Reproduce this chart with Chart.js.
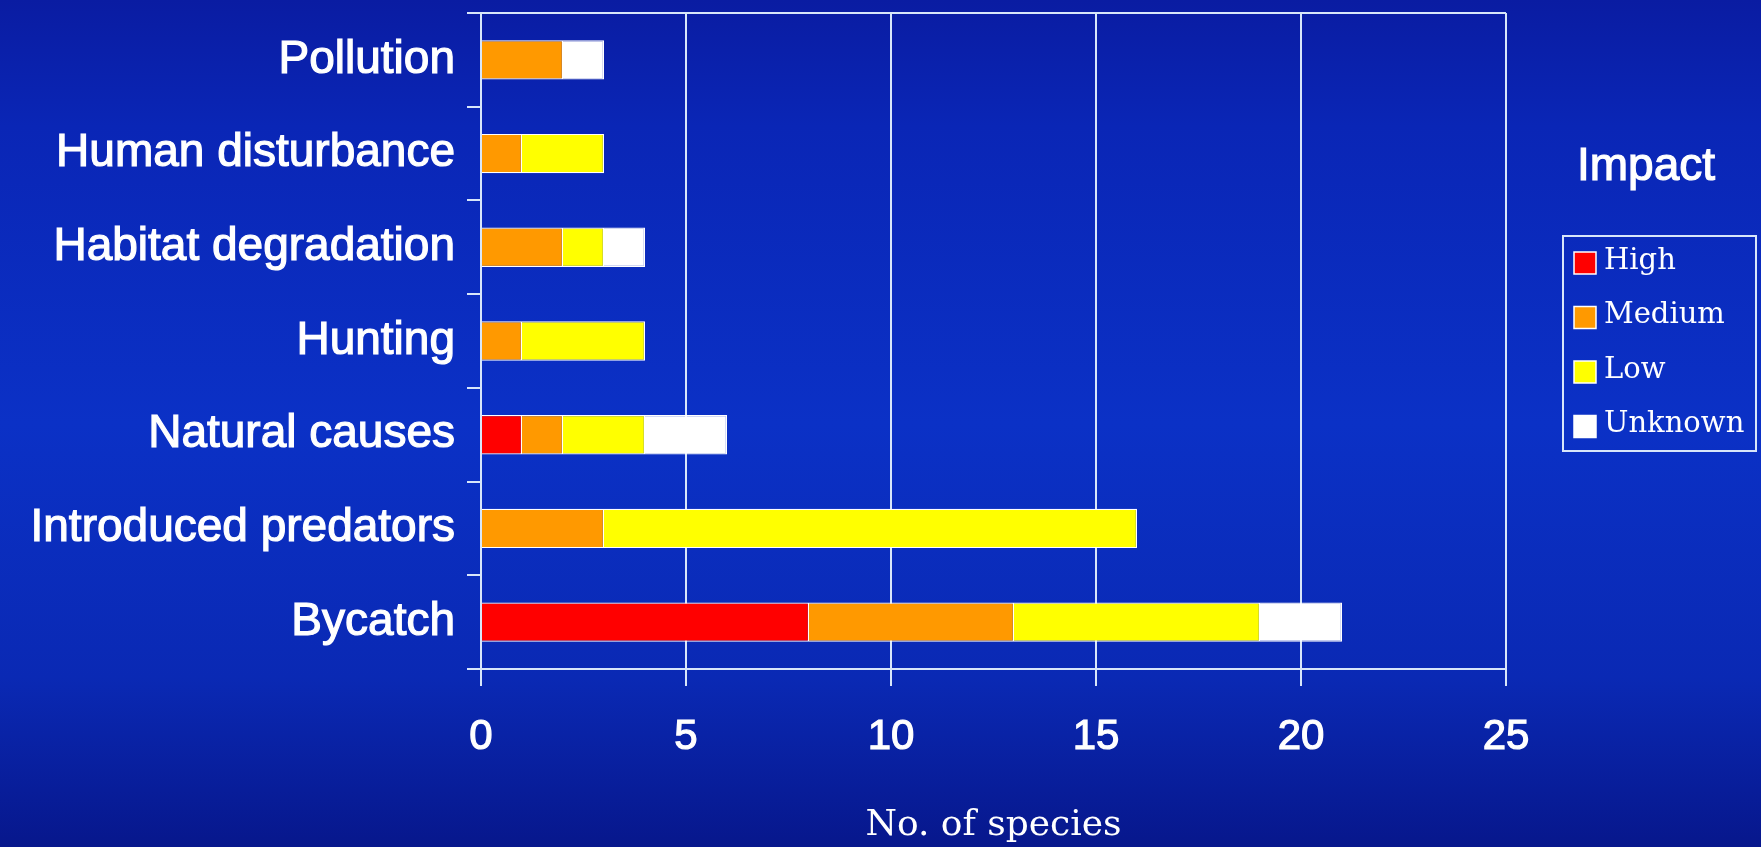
<!DOCTYPE html>
<html>
<head>
<meta charset="utf-8">
<script src="https://cdn.jsdelivr.net/npm/chart.js@4.4.1/dist/chart.umd.min.js"></script>
<style>
html,body{margin:0;padding:0;background:#0a24b0;overflow:hidden;}
#wrap{width:1761px;height:847px;position:relative;}
canvas{display:block;}
</style>
</head>
<body>
<div id="wrap"><canvas id="c" width="1761" height="847"></canvas></div>
<script>
// ---- data ----
const categories = ['Pollution', 'Human disturbance', 'Habitat degradation', 'Hunting', 'Natural causes', 'Introduced predators', 'Bycatch'];
const seriesNames = ['High', 'Medium', 'Low', 'Unknown'];
const high    = [0, 0, 0, 0, 1, 0, 8];
const medium  = [2, 1, 2, 1, 1, 3, 5];
const low     = [0, 2, 1, 3, 2, 13, 6];
const unknown = [1, 0, 1, 0, 2, 0, 2];
const xTicks = [0, 5, 10, 15, 20, 25];
const axisTitle = 'No. of species';
const legendTitle = 'Impact';

const seriesColors = ['#ff0000', '#ff9900', '#ffff00', '#ffffff'];
const lineColor = '#d8e6fa';
const sansFont = '"Liberation Sans", Arial, sans-serif';
const serifFont = '"DejaVu Serif", serif';

const bgPlugin = {
  id: 'bg',
  beforeDraw(chart) {
    const {ctx, width, height} = chart;
    const g = ctx.createLinearGradient(0, 0, 0, height);
    g.addColorStop(0, '#0a1ca2');
    g.addColorStop(0.15, '#0a26b6');
    g.addColorStop(0.5, '#0b31c6');
    g.addColorStop(0.8, '#0a29b4');
    g.addColorStop(1, '#07178c');
    ctx.save();
    ctx.fillStyle = g;
    ctx.fillRect(0, 0, width, height);
    ctx.restore();
  }
};

const legendPlugin = {
  id: 'boxLegend',
  afterDraw(chart) {
    const ctx = chart.ctx;
    ctx.save();
    ctx.fillStyle = '#ffffff';
    ctx.strokeStyle = '#ffffff';
    ctx.lineWidth = 1.2;
    ctx.font = '46px ' + sansFont;
    ctx.textAlign = 'center';
    ctx.textBaseline = 'middle';
    ctx.strokeText(legendTitle, 1646, 167);
    ctx.fillText(legendTitle, 1646, 167);
    ctx.strokeStyle = lineColor;
    ctx.lineWidth = 2;
    ctx.strokeRect(1563, 236, 193, 215);
    chart.data.datasets.forEach((ds, i) => {
      const y = 263 + i * 54.5;
      ctx.fillStyle = ds.backgroundColor;
      ctx.fillRect(1574, y - 11, 22, 22);
      ctx.strokeStyle = '#ffffff';
      ctx.lineWidth = 1.5;
      ctx.strokeRect(1574, y - 11, 22, 22);
      ctx.fillStyle = '#ffffff';
      ctx.font = '29px ' + serifFont;
      ctx.textAlign = 'left';
      ctx.textBaseline = 'middle';
      ctx.fillText(ds.label, 1604, y - 2);
    });
    ctx.restore();
  }
};

const seriesData = [high, medium, low, unknown];

new Chart(document.getElementById('c'), {
  type: 'bar',
  data: {
    labels: categories,
    datasets: seriesNames.map((name, i) => ({
      label: name,
      data: seriesData[i],
      backgroundColor: seriesColors[i],
      borderColor: '#ffffff',
      borderWidth: 1.2,
      categoryPercentage: 1,
      barPercentage: 0.42
    }))
  },
  options: {
    indexAxis: 'y',
    responsive: false,
    animation: false,
    devicePixelRatio: 1,
    layout: {padding: {top: 13, right: 255, bottom: 0, left: 0}},
    plugins: {legend: {display: false}, tooltip: {enabled: false}},
    scales: {
      x: {
        stacked: true,
        min: 0,
        max: 25,
        afterBuildTicks(s) { s.ticks = xTicks.map(v => ({value: v})); },
        ticks: {color: '#ffffff', font: {family: sansFont, size: 42}, padding: 26, maxRotation: 0, autoSkip: false,
                textStrokeColor: '#ffffff', textStrokeWidth: 1.2},
        grid: {color: lineColor, lineWidth: 2, tickLength: 17, drawTicks: true},
        border: {display: true, color: lineColor, width: 2},
        title: {display: true, text: axisTitle, color: '#ffffff', font: {family: serifFont, size: 36}, padding: {top: 41, bottom: 0}},
        afterFit(s) { s.height = 178; }
      },
      y: {
        stacked: true,
        ticks: {color: '#ffffff', font: {family: sansFont, size: 46}, padding: 12, autoSkip: false,
                textStrokeColor: '#ffffff', textStrokeWidth: 1.2},
        grid: {
          offset: true,
          color: (c) => c.index === 0 ? lineColor : 'rgba(0,0,0,0)',
          tickColor: lineColor,
          lineWidth: 2,
          tickLength: 14
        },
        border: {display: true, color: lineColor, width: 2},
        afterFit(s) { s.width = 481; s.paddingTop = 0; s.paddingBottom = 0; }
      }
    }
  },
  plugins: [bgPlugin, legendPlugin]
});
</script>
</body>
</html>
